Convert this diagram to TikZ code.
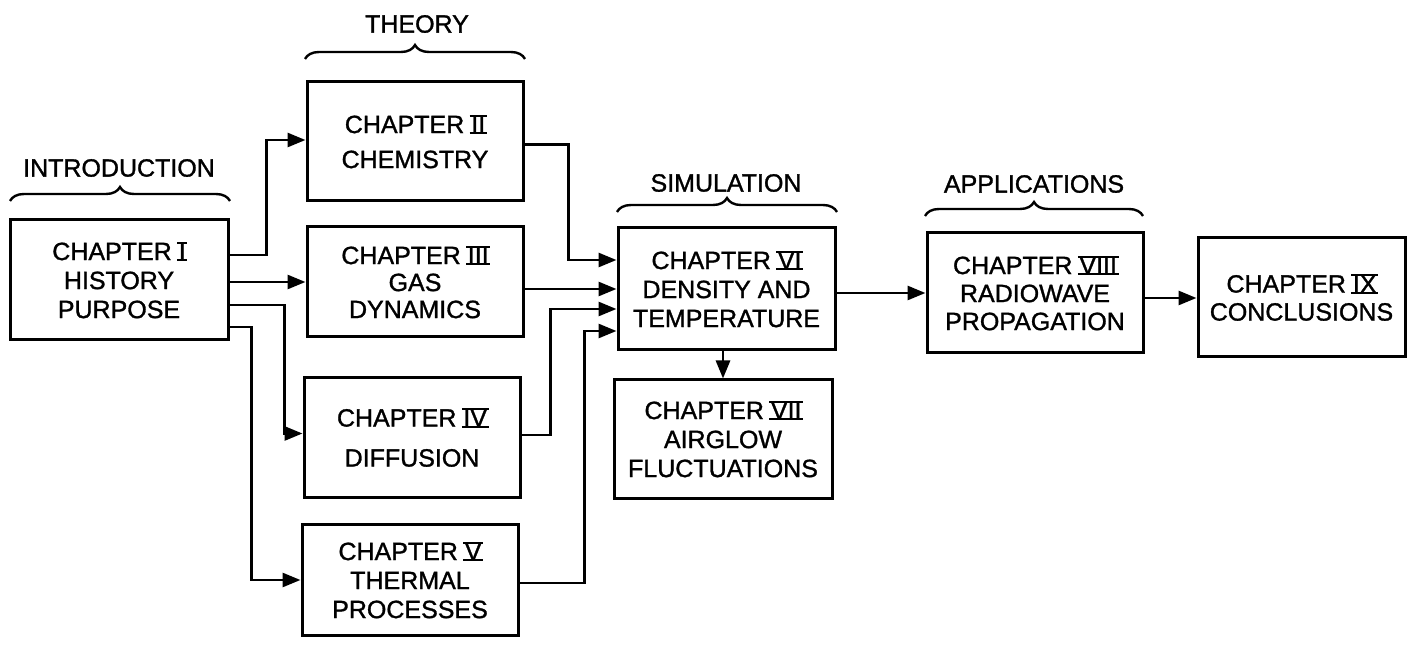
\documentclass[tikz,border=0pt]{standalone}
\usepackage{fontspec}
\setmainfont[FakeBold=1.2]{Liberation Sans}
\usetikzlibrary{arrows.meta,decorations.pathreplacing,calc}
\newcommand\rnum[1]{\setbox0=\hbox{#1}\rlap{\hspace{-0.8pt}\rule[-0.6pt]{\dimexpr\wd0+1.6pt}{1pt}}\rlap{\hspace{-0.8pt}\rule[\dimexpr\ht0-0.4pt]{\dimexpr\wd0+1.6pt}{1pt}}\box0}
\tikzset{
  chap/.style={draw, line width=1.5pt, align=center, inner sep=0pt,
    font=\fontsize{12.5pt}{14.5pt}\selectfont},
  arr/.style={line width=1.4pt, -{Triangle[length=9pt,width=7pt]}},
  lab/.style={font=\fontsize{12.5pt}{14.5pt}\selectfont},
  brc/.style={line width=1.2pt, decorate, decoration={brace, amplitude=7pt, aspect=0.5}}
}
\begin{document}
\begin{tikzpicture}[x=0.5pt, y=-0.5pt]
\useasboundingbox (0,0) rectangle (1408,646);
% chapter boxes
\node[chap, minimum width=109pt, minimum height=60pt] (c1) at (119,280) {CHAPTER \rnum{I}\\HISTORY\\PURPOSE};
\node[chap, minimum width=108pt, minimum height=59.5pt, font=\fontsize{12.5pt}{17.5pt}\selectfont] (c2) at (415,141.5) {CHAPTER \rnum{II}\\CHEMISTRY};
\node[chap, minimum width=108pt, minimum height=55pt, font=\fontsize{12.5pt}{13.5pt}\selectfont] (c3) at (415,282) {CHAPTER \rnum{III}\\GAS\\DYNAMICS};
\node[chap, minimum width=108pt, minimum height=59.5pt, font=\fontsize{12.5pt}{20pt}\selectfont] (c4) at (412,437.5) {CHAPTER \rnum{IV}\\DIFFUSION};
\node[chap, minimum width=108pt, minimum height=55.5pt] (c5) at (410,580) {CHAPTER \rnum{V}\\THERMAL\\PROCESSES};
\node[chap, minimum width=108.5pt, minimum height=61pt] (c6) at (726.5,289) {CHAPTER \rnum{VI}\\DENSITY AND\\TEMPERATURE};
\node[chap, minimum width=109pt, minimum height=59pt] (c7) at (723,439) {CHAPTER \rnum{VII}\\AIRGLOW\\FLUCTUATIONS};
\node[chap, minimum width=108pt, minimum height=60pt, font=\fontsize{12.5pt}{14pt}\selectfont] (c8) at (1035,293) {CHAPTER \rnum{VIII}\\RADIOWAVE\\PROPAGATION};
\node[chap, minimum width=103.5pt, minimum height=59.5pt, font=\fontsize{12.5pt}{14pt}\selectfont] (c9) at (1301.5,297.5) {CHAPTER \rnum{IX}\\CONCLUSIONS};
% group labels and braces
\node[lab] (lintro) at (119,168) {INTRODUCTION};
\node[lab] (ltheory) at (417,24) {THEORY};
\node[lab] (lsim) at (726,183) {SIMULATION};
\node[lab] (lapp) at (1034,184) {APPLICATIONS};
\draw[brc] (10,201) -- (230,201);
\draw[brc] (305,59) -- (525,59);
\draw[brc] (617,212) -- (837,212);
\draw[brc] (925,216) -- (1143,216);
% connectors from chapter I
\draw[arr] ([yshift=12.5pt]c1.east) -- ++(37,0) |- ([yshift=0.75pt]c2.west);
\draw[arr] (c1.east |- c3.west) -- (c3.west);
\draw[arr] ([yshift=-12.5pt]c1.east) -- ++(55,0) |- ([yshift=2pt]c4.west);
\draw[arr] ([yshift=-23.5pt]c1.east) -- ++(22,0) |- (c5.west);
% connectors into chapter VI
\draw[arr] ([yshift=-1.5pt]c2.east) -- ++(44,0) |- ([yshift=14.5pt]c6.west);
\draw[arr] (c3.east |- c6.west) -- (c6.west);
\draw[arr] ([yshift=1.2pt]c4.east) -- ++(29,0) |- ([yshift=-10pt]c6.west);
\draw[arr] ([yshift=-1.5pt]c5.east) -- ++(65,0) |- ([yshift=-21pt]c6.west);
% onward
\draw[arr] (c6.south -| c7.north) -- (c7.north);
\draw[arr] ([yshift=-2pt]c6.east) -- ([yshift=-2pt]c6.east -| c8.west);
\draw[arr] ([yshift=-2.5pt]c8.east) -- ([yshift=-2.5pt]c8.east -| c9.west);
\end{tikzpicture}
\end{document}
